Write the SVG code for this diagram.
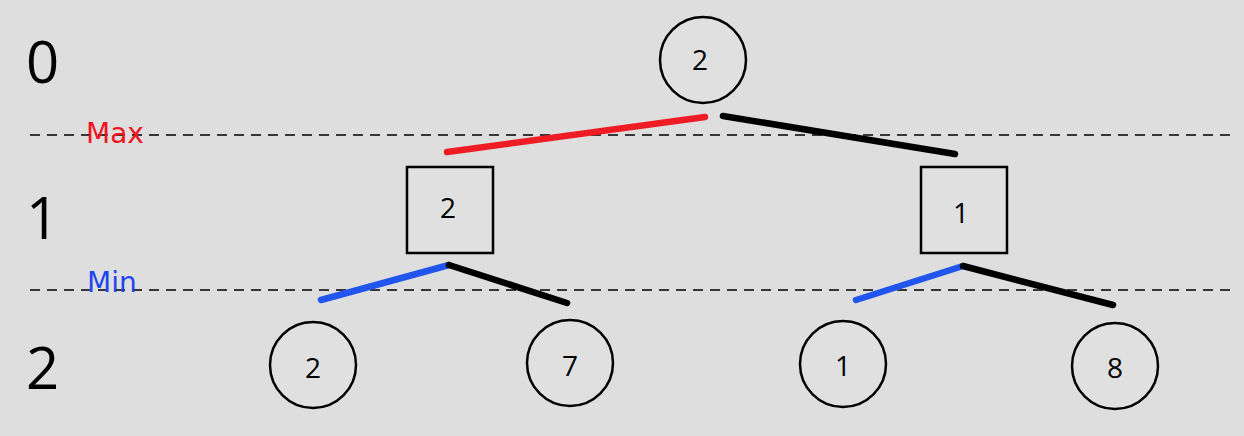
<svg xmlns="http://www.w3.org/2000/svg" width="1244" height="436" viewBox="0 0 1244 436">
<style>
.bg{fill:#dedede}
.node{fill:#e0e0e0;stroke:#000;stroke-width:2.5}
.num{font-family:"Open Sans","DejaVu Sans",sans-serif;font-size:28px;fill:#000;text-anchor:middle}
.lvl{font-family:"Open Sans","DejaVu Sans",sans-serif;font-size:58px;fill:#000}
.dash{stroke:#000;stroke-width:1.6;stroke-dasharray:10 7;fill:none}
.edge{stroke-width:6.5;stroke-linecap:round;fill:none}
.lab{font-family:"DejaVu Sans",sans-serif;font-size:28px}
</style>
<rect class="bg" x="0" y="0" width="1244" height="436"/>
<g id="levels">
<text class="lvl" x="26" y="83">0</text>
<text class="lvl" x="26" y="239">1</text>
<text class="lvl" x="26" y="389">2</text>
</g>
<g id="guides">
<line class="dash" x1="30" y1="135" x2="1232" y2="135"/>
<line class="dash" x1="30" y1="290" x2="1232" y2="290"/>
<text class="lab" x="86" y="143" fill="#f0141e">Max</text>
<text class="lab" x="87" y="292" fill="#1e46f0">Min</text>
</g>
<g id="connectors">
<line class="edge" x1="447" y1="152" x2="705" y2="117" stroke="#ee1c24"/>
<line class="edge" x1="723" y1="116" x2="955" y2="154" stroke="#000"/>
<line class="edge" x1="321" y1="300" x2="449" y2="265" stroke="#2255ee"/>
<line class="edge" x1="449" y1="265" x2="567" y2="303" stroke="#000"/>
<line class="edge" x1="856" y1="300" x2="963" y2="266" stroke="#2255ee"/>
<line class="edge" x1="963" y1="266" x2="1113" y2="305" stroke="#000"/>
</g>
<g id="root"><circle class="node" cx="703" cy="60" r="43"/><text class="num" x="700" y="70">2</text></g>
<g id="min-left"><rect class="node" x="407" y="167" width="86" height="86"/><text class="num" x="448" y="218">2</text></g>
<g id="min-right"><rect class="node" x="921" y="167" width="86" height="86"/><text class="num" x="961" y="223">1</text></g>
<g id="leaf-1"><circle class="node" cx="313" cy="365" r="43"/><text class="num" x="313" y="378">2</text></g>
<g id="leaf-2"><circle class="node" cx="570" cy="363" r="43"/><text class="num" x="570" y="376">7</text></g>
<g id="leaf-3"><circle class="node" cx="843" cy="364" r="43"/><text class="num" x="843" y="376">1</text></g>
<g id="leaf-4"><circle class="node" cx="1115" cy="366" r="43"/><text class="num" x="1115" y="378">8</text></g>
</svg>
